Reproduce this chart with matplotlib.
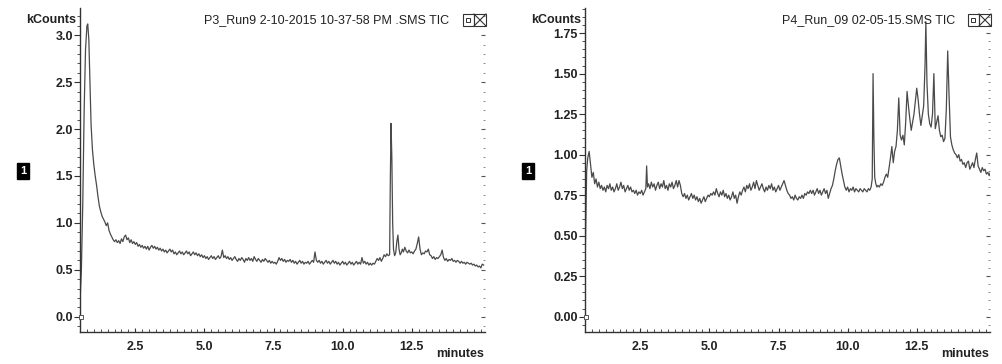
import matplotlib
matplotlib.use("Agg")
import matplotlib.pyplot as plt
from matplotlib.ticker import MultipleLocator, FormatStrFormatter

plt.rcParams['font.family'] = ['Liberation Sans', 'DejaVu Sans']

# ---------------- data: left chromatogram (P3_Run9) ----------------
title_left = "P3_Run9 2-10-2015 10-37-58 PM .SMS TIC"
time_left = [
    0.50, 0.55, 0.60, 0.65, 0.70, 0.75, 0.78, 0.82, 0.86, 0.90,
    0.95, 1.00, 1.05, 1.10, 1.15, 1.20, 1.25, 1.30, 1.35, 1.40,
    1.45, 1.50, 1.55,
    1.60, 1.65, 1.70, 1.75, 1.80, 1.85, 1.90, 1.95, 2.00, 2.05,
    2.10, 2.15, 2.20, 2.25, 2.30, 2.35, 2.40, 2.45, 2.50, 2.55,
    2.60, 2.65, 2.70, 2.75, 2.80, 2.85, 2.90, 2.95, 3.00, 3.05,
    3.10, 3.15, 3.20, 3.25, 3.30, 3.35, 3.40, 3.45, 3.50, 3.55,
    3.60, 3.65, 3.70, 3.75, 3.80, 3.85, 3.90, 3.95, 4.00, 4.05,
    4.10, 4.15, 4.20, 4.25, 4.30, 4.35, 4.40, 4.45, 4.50, 4.55,
    4.60, 4.65, 4.70, 4.75, 4.80, 4.85, 4.90, 4.95, 5.00, 5.05,
    5.10, 5.15, 5.20, 5.25, 5.30, 5.35, 5.40, 5.45, 5.50, 5.55,
    5.60, 5.65, 5.70, 5.75, 5.80, 5.85, 5.90, 5.95, 6.00, 6.05,
    6.10, 6.15, 6.20, 6.25, 6.30, 6.35, 6.40, 6.45, 6.50, 6.55,
    6.60, 6.65, 6.70, 6.75, 6.80, 6.85, 6.90, 6.95, 7.00, 7.05,
    7.10, 7.15, 7.20, 7.25, 7.30, 7.35, 7.40, 7.45, 7.50, 7.55,
    7.60, 7.65, 7.70, 7.75, 7.80, 7.85, 7.90, 7.95, 8.00, 8.05,
    8.10, 8.15, 8.20, 8.25, 8.30, 8.35, 8.40, 8.45, 8.50, 8.55,
    8.60, 8.65, 8.70, 8.75, 8.80, 8.85, 8.90, 8.95, 9.00, 9.05,
    9.10, 9.15, 9.20, 9.25, 9.30, 9.35, 9.40, 9.45, 9.50, 9.55,
    9.60, 9.65, 9.70, 9.75, 9.80, 9.85, 9.90, 9.95, 10.00, 10.05,
    10.10, 10.15, 10.20, 10.25, 10.30, 10.35, 10.40, 10.45, 10.50, 10.55,
    10.60, 10.65, 10.70, 10.75, 10.80, 10.85, 10.90, 10.95, 11.00, 11.05,
    11.10, 11.15, 11.20, 11.25, 11.30, 11.35, 11.40, 11.45, 11.50, 11.55,
    11.60, 11.65, 11.70, 11.72, 11.75, 11.78, 11.81, 11.84, 11.88, 11.92,
    11.96, 12.00, 12.04, 12.08, 12.12, 12.16, 12.20, 12.25, 12.30, 12.35,
    12.40, 12.45, 12.50, 12.55, 12.60, 12.65, 12.70, 12.75, 12.80, 12.85,
    12.90, 12.95, 13.00, 13.05, 13.10, 13.15, 13.20, 13.25, 13.30, 13.35,
    13.40, 13.45, 13.50, 13.55, 13.60, 13.65, 13.70, 13.75, 13.80, 13.85,
    13.90, 13.95, 14.00, 14.05, 14.10, 14.15, 14.20, 14.25, 14.30, 14.35,
    14.40, 14.45, 14.50, 14.55, 14.60, 14.65, 14.70, 14.75, 14.80, 14.85,
    14.90, 14.95, 15.00, 15.05, 15.10,
]
kcounts_left = [
    0.15, 0.50, 1.20, 2.20, 2.85, 3.10, 3.12, 2.95, 2.50, 2.05,
    1.78, 1.62, 1.50, 1.40, 1.28, 1.18, 1.12, 1.07, 1.04, 1.01,
    0.97, 1.00, 0.92,
    0.88, 0.85, 0.82, 0.80, 0.82, 0.79, 0.81, 0.78, 0.83, 0.80,
    0.85, 0.87, 0.82, 0.84, 0.79, 0.82, 0.78, 0.80, 0.77, 0.79,
    0.75, 0.77, 0.74, 0.76, 0.73, 0.75, 0.72, 0.75, 0.71, 0.74,
    0.76, 0.73, 0.75, 0.72, 0.74, 0.71, 0.73, 0.70, 0.72, 0.69,
    0.71, 0.68, 0.70, 0.72, 0.69, 0.71, 0.67, 0.69, 0.66, 0.68,
    0.70, 0.67, 0.69, 0.66, 0.68, 0.70, 0.67, 0.69, 0.65, 0.67,
    0.69, 0.66, 0.68, 0.65, 0.67, 0.64, 0.66, 0.63, 0.65, 0.62,
    0.64, 0.61, 0.63, 0.65, 0.62, 0.64, 0.61, 0.63, 0.65, 0.62,
    0.64, 0.71, 0.63, 0.65, 0.62, 0.64, 0.61, 0.63, 0.60, 0.62,
    0.64, 0.61, 0.59, 0.62, 0.60, 0.63, 0.61, 0.58, 0.62, 0.60,
    0.63, 0.60, 0.62, 0.59, 0.64, 0.61, 0.59, 0.62, 0.60, 0.58,
    0.61, 0.59, 0.62, 0.60, 0.58, 0.60, 0.57, 0.59, 0.57, 0.58,
    0.56, 0.59, 0.63, 0.60, 0.62, 0.59, 0.61, 0.58, 0.60, 0.59,
    0.61, 0.58, 0.60, 0.57, 0.59, 0.56, 0.58, 0.60, 0.57, 0.59,
    0.56, 0.58, 0.57, 0.59, 0.56, 0.58, 0.60, 0.58, 0.69, 0.60,
    0.58, 0.60, 0.57, 0.59, 0.56, 0.58, 0.60, 0.57, 0.59, 0.56,
    0.58, 0.60, 0.57, 0.59, 0.56, 0.58, 0.55, 0.57, 0.59, 0.56,
    0.58, 0.55, 0.57, 0.59, 0.56, 0.58, 0.55, 0.57, 0.59, 0.56,
    0.58, 0.56, 0.63, 0.57, 0.59, 0.56, 0.58, 0.55, 0.57, 0.55,
    0.57, 0.56, 0.59, 0.62, 0.60, 0.63, 0.59, 0.62, 0.66, 0.64,
    0.67, 0.65, 0.66, 1.30, 2.06, 1.70, 1.00, 0.72, 0.65, 0.68,
    0.80, 0.87, 0.72, 0.66, 0.68, 0.72, 0.69, 0.74, 0.70, 0.68,
    0.71, 0.68, 0.69, 0.67, 0.70, 0.72, 0.78, 0.85, 0.72, 0.66,
    0.68, 0.67, 0.70, 0.69, 0.72, 0.66, 0.65, 0.62, 0.64, 0.61,
    0.63, 0.62, 0.64, 0.66, 0.71, 0.63, 0.60, 0.62, 0.59, 0.61,
    0.60, 0.62, 0.59, 0.60, 0.58, 0.60, 0.59, 0.57, 0.59, 0.57,
    0.58, 0.56, 0.58, 0.57, 0.56, 0.57, 0.55, 0.56, 0.54, 0.55,
    0.53, 0.54, 0.52, 0.56, 0.55,
]

# ---------------- data: right chromatogram (P4_Run_09) ----------------
title_right = "P4_Run_09 02-05-15.SMS TIC"
time_right = [
    0.50, 0.53, 0.56, 0.60, 0.65, 0.70, 0.75, 0.80, 0.85, 0.90,
    0.95, 1.00, 1.05, 1.10, 1.15, 1.20, 1.25, 1.30, 1.35, 1.40,
    1.45, 1.50, 1.55, 1.60, 1.65, 1.70, 1.75, 1.80, 1.85, 1.90,
    1.95, 2.00, 2.05, 2.10, 2.15, 2.20, 2.25, 2.30, 2.35, 2.40,
    2.45, 2.50, 2.55, 2.60, 2.65, 2.70, 2.73, 2.76, 2.80, 2.85,
    2.90, 2.95, 3.00, 3.05, 3.10, 3.15, 3.20, 3.25, 3.30, 3.35,
    3.40, 3.45, 3.50, 3.55, 3.60, 3.65, 3.70, 3.75, 3.80, 3.85,
    3.90, 3.95, 4.00, 4.05, 4.10, 4.15, 4.20, 4.25, 4.30, 4.35,
    4.40, 4.45, 4.50, 4.55, 4.60, 4.65, 4.70, 4.75, 4.80, 4.85,
    4.90, 4.95, 5.00, 5.05, 5.10, 5.15, 5.20, 5.25, 5.30, 5.35,
    5.40, 5.45, 5.50, 5.55, 5.60, 5.65, 5.70, 5.75, 5.80, 5.85,
    5.90, 5.95, 6.00, 6.05, 6.10, 6.15, 6.20, 6.25, 6.30, 6.35,
    6.40, 6.45, 6.50, 6.55, 6.60, 6.65, 6.70, 6.75, 6.80, 6.85,
    6.90, 6.95, 7.00, 7.05, 7.10, 7.15, 7.20, 7.25, 7.30, 7.35,
    7.40, 7.45, 7.50, 7.55, 7.60, 7.65, 7.70, 7.75, 7.80, 7.85,
    7.90, 7.95, 8.00, 8.05, 8.10, 8.15, 8.20, 8.25, 8.30, 8.35,
    8.40, 8.45, 8.50, 8.55, 8.60, 8.65, 8.70, 8.75, 8.80, 8.85,
    8.90, 8.95, 9.00, 9.05, 9.10, 9.15, 9.20, 9.25, 9.30, 9.35,
    9.40, 9.45, 9.50, 9.55, 9.60, 9.65, 9.70, 9.75, 9.80, 9.85,
    9.90, 9.95, 10.00, 10.05, 10.10, 10.15, 10.20, 10.25, 10.30, 10.35,
    10.40, 10.45, 10.50, 10.55, 10.60, 10.65, 10.70, 10.75, 10.80, 10.85,
    10.89, 10.92, 10.95, 10.98, 11.02, 11.06, 11.10, 11.15, 11.20, 11.25,
    11.30, 11.35, 11.40, 11.45, 11.50, 11.55, 11.60, 11.65, 11.70, 11.75,
    11.80, 11.85, 11.90, 11.95, 12.00, 12.05, 12.10, 12.15, 12.20, 12.25,
    12.30, 12.35, 12.40, 12.45, 12.50, 12.55, 12.60, 12.65, 12.70, 12.75,
    12.80, 12.83, 12.87, 12.92, 12.97, 13.02, 13.07, 13.12, 13.17, 13.22,
    13.27, 13.32, 13.37, 13.42, 13.47, 13.52, 13.57, 13.62, 13.67, 13.72,
    13.77, 13.82, 13.87, 13.92, 13.97, 14.02, 14.07, 14.12, 14.17, 14.22,
    14.27, 14.32, 14.37, 14.42, 14.47, 14.52, 14.57, 14.62, 14.67, 14.72,
    14.77, 14.82, 14.87, 14.92, 14.97, 15.02, 15.07, 15.12, 15.16,
]
kcounts_right = [
    0.28, 0.60, 0.90, 0.98, 1.02, 0.94, 0.86, 0.89, 0.82, 0.85,
    0.80, 0.83, 0.79, 0.81, 0.78, 0.80, 0.77, 0.81, 0.79, 0.82,
    0.78, 0.80, 0.77, 0.79, 0.82, 0.78, 0.80, 0.83, 0.79, 0.81,
    0.77, 0.79, 0.81, 0.78, 0.80, 0.77, 0.78, 0.76, 0.78, 0.75,
    0.77, 0.76, 0.78, 0.75, 0.77, 0.79, 0.93, 0.80, 0.82, 0.79,
    0.83, 0.80, 0.82, 0.78, 0.81, 0.83, 0.79, 0.82, 0.80, 0.84,
    0.79, 0.81, 0.78, 0.82, 0.80, 0.83, 0.79, 0.81, 0.84, 0.80,
    0.84, 0.81, 0.76, 0.74, 0.76, 0.73, 0.75, 0.72, 0.74, 0.76,
    0.73, 0.75, 0.72, 0.74, 0.71, 0.73, 0.70, 0.72, 0.74, 0.71,
    0.73, 0.75, 0.74, 0.76, 0.75, 0.77, 0.75, 0.79, 0.76, 0.74,
    0.77, 0.75, 0.78, 0.74, 0.76, 0.73, 0.75, 0.72, 0.74, 0.77,
    0.73, 0.75, 0.70, 0.74, 0.77, 0.75, 0.78, 0.80, 0.77, 0.81,
    0.79, 0.82, 0.78, 0.80, 0.83, 0.79, 0.84, 0.81, 0.78, 0.80,
    0.82, 0.79, 0.77, 0.80, 0.78, 0.81, 0.79, 0.82, 0.78, 0.80,
    0.77, 0.79, 0.81, 0.78, 0.80, 0.82, 0.84, 0.81, 0.78, 0.76,
    0.75, 0.73, 0.74, 0.72, 0.75, 0.73, 0.72, 0.74, 0.73, 0.75,
    0.73, 0.76, 0.75, 0.77, 0.76, 0.78, 0.76, 0.78, 0.75, 0.77,
    0.79, 0.76, 0.78, 0.75, 0.77, 0.79, 0.76, 0.78, 0.73, 0.76,
    0.79, 0.81, 0.85, 0.90, 0.94, 0.97, 0.98, 0.93, 0.88, 0.84,
    0.80, 0.78, 0.80, 0.77, 0.79, 0.78, 0.80, 0.77, 0.79, 0.78,
    0.77, 0.79, 0.78, 0.77, 0.79, 0.78, 0.77, 0.79, 0.78, 0.80,
    0.85, 1.50, 1.10, 0.86, 0.82, 0.80, 0.81, 0.80, 0.82, 0.81,
    0.83, 0.86, 0.88, 0.86, 0.92, 0.98, 1.05, 0.95, 1.02, 1.05,
    1.15, 1.35, 1.12, 1.09, 1.12, 1.06, 1.20, 1.39, 1.30, 1.22,
    1.15, 1.20, 1.25, 1.33, 1.41, 1.34, 1.25, 1.18, 1.24, 1.30,
    1.55, 1.82, 1.44, 1.25, 1.19, 1.17, 1.25, 1.50, 1.16, 1.20,
    1.24, 1.15, 1.11, 1.12, 1.08, 1.10, 1.28, 1.64, 1.36, 1.11,
    1.06, 1.03, 1.01, 1.00, 0.98, 1.00, 0.96, 0.97, 0.94, 0.95,
    0.92, 0.95, 0.96, 0.91, 0.93, 0.95, 0.92, 0.97, 1.01, 0.93,
    0.91, 0.89, 0.92, 0.90, 0.91, 0.88, 0.89, 0.87, 0.89,
]

# ---------------- axis settings ----------------
x_limits = (0.5, 15.15)
x_major = 2.5
x_ticks = [2.5, 5.0, 7.5, 10.0, 12.5]
left_ylim = (-0.16, 3.29)
left_major, left_minor, left_fmt = 0.5, 0.1, '%.1f'
right_ylim = (-0.093, 1.905)
right_major, right_minor, right_fmt = 0.25, 0.05, '%.2f'

W, H = 1003, 364
fig = plt.figure(figsize=(W / 100, H / 100), dpi=100)

line_color = '#4a4a4a'
axis_color = '#333333'
fs = 9


def setup(ax_rect, t, v, ylim, major, minor, fmt, title, title_right_px,
          kc_right_px, icon_left_px, one_px, min_center_px):
    ax = fig.add_axes(ax_rect)
    ax.plot(t, v, color=line_color, lw=0.9)
    ax.set_xlim(*x_limits)
    ax.set_ylim(*ylim)
    for s in ('top', 'right'):
        ax.spines[s].set_visible(False)
    for s in ('left', 'bottom'):
        ax.spines[s].set_color(axis_color)
        ax.spines[s].set_linewidth(1.0)
    ax.yaxis.set_major_locator(MultipleLocator(major))
    ax.yaxis.set_minor_locator(MultipleLocator(minor))
    ax.yaxis.set_major_formatter(FormatStrFormatter(fmt))
    ax.set_xticks(x_ticks)
    ax.xaxis.set_minor_locator(MultipleLocator(0.25))
    ax.tick_params(axis='y', which='major', direction='out', length=4,
                   width=0.8, color=axis_color, labelsize=fs, pad=1)
    ax.tick_params(axis='y', which='minor', direction='out', length=2,
                   width=0.6, color=axis_color)
    ax.tick_params(axis='x', which='major', direction='in', length=3,
                   width=0.8, color=axis_color, labelsize=fs, pad=7)
    ax.tick_params(axis='x', which='minor', direction='in', length=2,
                   width=0.6, color=axis_color)
    for lab in ax.get_xticklabels() + ax.get_yticklabels():
        lab.set_fontweight('bold')
        lab.set_color('#222222')
    # right-hand tick strip without a spine
    sec = ax.secondary_yaxis('right')
    sec.spines['right'].set_visible(False)
    sec.yaxis.set_major_locator(MultipleLocator(major))
    sec.yaxis.set_minor_locator(MultipleLocator(minor))
    sec.tick_params(which='major', direction='in', length=3, width=0.8,
                    color='#555555', labelright=False)
    sec.tick_params(which='minor', direction='in', length=1.5, width=0.6,
                    color='#777777')
    # zero marker on the y axis
    ax.plot([x_limits[0] + 0.04], [0.0], marker='s', ms=3, mfc='white',
            mec='#555555', mew=0.7, clip_on=False, zorder=5)
    # texts
    fig.text(kc_right_px / W, 1 - 20 / H, 'kCounts', ha='right', va='center',
             fontsize=fs, fontweight='bold', color='#222222')
    fig.text(title_right_px / W, 1 - 20 / H, title, ha='right', va='center',
             fontsize=fs, color='#222222')
    fig.text(min_center_px / W, 1 - 354 / H, 'minutes', ha='center',
             va='center', fontsize=fs, fontweight='bold', color='#222222')
    fig.text(one_px / W, 1 - 171 / H, '1', ha='center', va='center',
             fontsize=8, fontweight='bold', color='white',
             bbox=dict(boxstyle='square,pad=0.25', fc='black', ec='black'))
    # window icons (restore / close)
    x0 = icon_left_px
    r1 = plt.Rectangle((x0 / W, 1 - 26 / H), 11 / W, 12 / H, transform=fig.transFigure,
                       fill=False, ec='#333333', lw=0.8)
    r1b = plt.Rectangle(((x0 + 3.5) / W, 1 - 22 / H), 4 / W, 4 / H, transform=fig.transFigure,
                        fill=False, ec='#333333', lw=0.7)
    r2 = plt.Rectangle(((x0 + 11) / W, 1 - 26 / H), 12 / W, 12 / H, transform=fig.transFigure,
                       fill=False, ec='#333333', lw=0.8)
    fig.patches.extend([r1, r1b, r2])
    fig.lines.append(plt.Line2D([(x0 + 11) / W, (x0 + 23) / W], [1 - 26 / H, 1 - 14 / H],
                                transform=fig.transFigure, color='#333333', lw=0.8))
    fig.lines.append(plt.Line2D([(x0 + 11) / W, (x0 + 23) / W], [1 - 14 / H, 1 - 26 / H],
                                transform=fig.transFigure, color='#333333', lw=0.8))
    return ax


bottom = (H - 331.7) / H
height = (331.7 - 8) / H
setup([80 / W, bottom, 405 / W, height], time_left, kcounts_left, left_ylim,
      left_major, left_minor, left_fmt, title_left, 449, 76, 463, 23, 460)
setup([585 / W, bottom, 405 / W, height], time_right, kcounts_right, right_ylim,
      right_major, right_minor, right_fmt, title_right, 955, 581, 968, 528, 965)

fig.savefig('out.png', dpi=100)
